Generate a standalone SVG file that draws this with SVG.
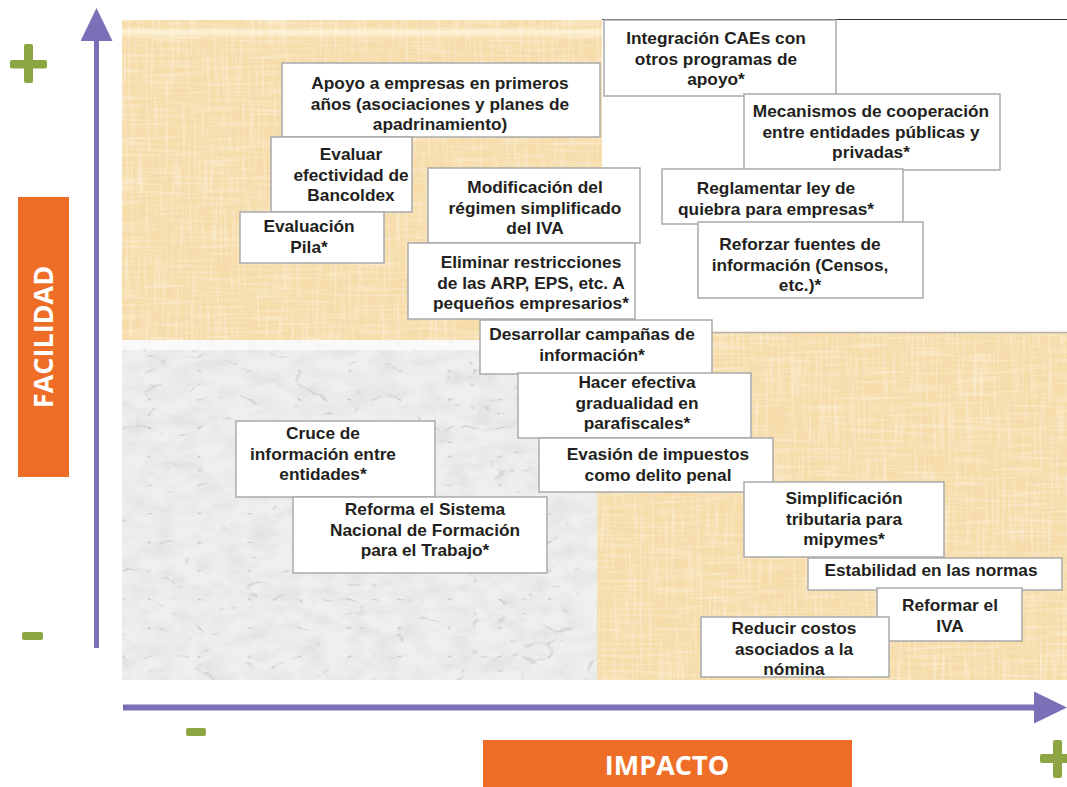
<svg xmlns="http://www.w3.org/2000/svg" width="1067" height="787" viewBox="0 0 1067 787">
<defs>
<style>
.box{fill:#ffffff;stroke:#aaaaaa;stroke-width:1.5}
.t{font-family:"Liberation Sans",Arial,sans-serif;font-weight:bold;font-size:17.3px;fill:#231f20;text-anchor:middle}
.lbl{font-family:"Open Sans","Liberation Sans",sans-serif;font-weight:bold;font-size:27px;fill:#ffffff;text-anchor:middle}
.orange{fill:#ee6e28}
.green{fill:#8ea544}
.axis{stroke:#7b70b8;fill:none}
</style>
<marker id="arr" markerUnits="userSpaceOnUse" markerWidth="34" markerHeight="32" refX="0" refY="16" orient="auto" viewBox="0 0 34 32">
<path d="M0,0 L33,16 L0,32 Z" fill="#7b70b8"/>
</marker>
<filter id="pap" x="0" y="0" width="1" height="1">
<feTurbulence type="fractalNoise" baseFrequency="0.35 0.02" numOctaves="2" seed="3" result="v"/>
<feColorMatrix in="v" type="matrix" values="0 0 0 0 1  0 0 0 0 0.95  0 0 0 0 0.84  1.0 0 0 0 -0.46" result="vl"/>
<feTurbulence type="fractalNoise" baseFrequency="0.02 0.35" numOctaves="2" seed="7" result="h"/>
<feColorMatrix in="h" type="matrix" values="0 0 0 0 1  0 0 0 0 0.95  0 0 0 0 0.84  1.0 0 0 0 -0.46" result="hl"/>
<feTurbulence type="fractalNoise" baseFrequency="0.05" numOctaves="3" seed="9" result="d"/>
<feColorMatrix in="d" type="matrix" values="0 0 0 0 0.92  0 0 0 0 0.77  0 0 0 0 0.5  -0.8 0 0 0 0.32" result="dk"/>
<feMerge result="m"><feMergeNode in="SourceGraphic"/><feMergeNode in="dk"/><feMergeNode in="vl"/><feMergeNode in="hl"/></feMerge>
<feComposite in="m" in2="SourceGraphic" operator="in"/>
</filter>
<filter id="marb" x="0" y="0" width="1" height="1">
<feTurbulence type="turbulence" baseFrequency="0.02 0.035" numOctaves="3" seed="11" result="t"/>
<feColorMatrix in="t" type="matrix" values="0 0 0 0 0.58  0 0 0 0 0.58  0 0 0 0 0.6  -9 0 0 0 0.9" result="veins"/>
<feTurbulence type="fractalNoise" baseFrequency="0.04 0.07" numOctaves="3" seed="4" result="w"/>
<feColorMatrix in="w" type="matrix" values="0 0 0 0 0.72  0 0 0 0 0.72  0 0 0 0 0.74  1.4 0 0 0 -0.5" result="mott"/>
<feMerge result="m"><feMergeNode in="SourceGraphic"/><feMergeNode in="mott"/><feMergeNode in="veins"/></feMerge>
<feComposite in="m" in2="SourceGraphic" operator="in"/>
</filter>
<linearGradient id="topHi" x1="0" y1="0" x2="0" y2="1">
<stop offset="0" stop-color="#fff6df" stop-opacity="0"/>
<stop offset="0.4" stop-color="#fff6df" stop-opacity="0.85"/>
<stop offset="1" stop-color="#fff6df" stop-opacity="0"/>
</linearGradient>
</defs>

<g id="background">
<rect x="0" y="0" width="1067" height="787" fill="#ffffff"/>
<rect x="122" y="20" width="480" height="320" fill="#f6dca8" filter="url(#pap)"/>
<rect x="122" y="27" width="480" height="12" fill="url(#topHi)"/>
<rect x="122" y="340" width="475" height="340" fill="#efefef" filter="url(#marb)"/>
<rect x="122" y="340" width="475" height="10" fill="#ffffff" opacity="0.7"/>
<rect x="597" y="332" width="470" height="348" fill="#f6dca8" filter="url(#pap)"/>
<line x1="597" y1="332.5" x2="1067" y2="332.5" stroke="#b8b0a0" stroke-width="1.5"/>
<line x1="602" y1="19.5" x2="1067" y2="19.5" stroke="#333333" stroke-width="1"/>
</g>

<g id="connectors">
<line class="axis" x1="96.5" y1="648" x2="96.5" y2="41" stroke-width="5" marker-end="url(#arr)"/>
<line class="axis" x1="123" y1="707.5" x2="1034" y2="707.5" stroke-width="6" marker-end="url(#arr)"/>
</g>

<g id="signs">
<rect class="green" x="10" y="60" width="37" height="8.5" rx="2"/>
<rect class="green" x="24" y="44" width="9" height="39" rx="2"/>
<rect class="green" x="22" y="632" width="21" height="8" rx="2"/>
<rect class="green" x="186" y="728" width="20" height="8" rx="2"/>
<rect class="green" x="1053" y="740" width="9" height="38" rx="2"/>
<rect class="green" x="1040" y="754" width="37" height="9" rx="2"/>
</g>

<g id="facilidad">
<rect class="orange" x="18" y="197" width="51" height="280"/>
<text class="lbl" transform="translate(53,337) rotate(-90)" x="0" y="0">FACILIDAD</text>
</g>
<g id="impacto">
<rect class="orange" x="483" y="740" width="369" height="47"/>
<text class="lbl" x="667" y="775">IMPACTO</text>
</g>

<g id="n-apoyo">
<rect class="box" x="282" y="63" width="318" height="74"/>
<text class="t" x="440" y="89">Apoyo a empresas en primeros</text>
<text class="t" x="440" y="109.5">años (asociaciones y planes de</text>
<text class="t" x="440" y="130">apadrinamiento)</text>
</g>
<g id="n-bancoldex">
<rect class="box" x="271" y="137" width="141" height="75"/>
<text class="t" x="351" y="160">Evaluar</text>
<text class="t" x="351" y="180.5">efectividad de</text>
<text class="t" x="351" y="201">Bancoldex</text>
</g>
<g id="n-pila">
<rect class="box" x="240" y="212" width="144" height="51"/>
<text class="t" x="309" y="232">Evaluación</text>
<text class="t" x="309" y="252.5">Pila*</text>
</g>
<g id="n-iva-simpl">
<rect class="box" x="428" y="168" width="212" height="75"/>
<text class="t" x="535" y="193">Modificación del</text>
<text class="t" x="535" y="213.5">régimen simplificado</text>
<text class="t" x="535" y="234">del IVA</text>
</g>
<g id="n-arp">
<rect class="box" x="408" y="243" width="227" height="76"/>
<text class="t" x="531" y="268">Eliminar restricciones</text>
<text class="t" x="531" y="288.5">de las ARP, EPS, etc. A</text>
<text class="t" x="531" y="309">pequeños empresarios*</text>
</g>
<g id="n-campanas">
<rect class="box" x="480" y="320" width="232" height="54"/>
<text class="t" x="592" y="340">Desarrollar campañas de</text>
<text class="t" x="592" y="360.5">información*</text>
</g>
<g id="n-parafiscales">
<rect class="box" x="518" y="373" width="233" height="65"/>
<text class="t" x="637" y="388">Hacer efectiva</text>
<text class="t" x="637" y="408.5">gradualidad en</text>
<text class="t" x="637" y="429">parafiscales*</text>
</g>
<g id="n-evasion">
<rect class="box" x="539" y="438" width="234" height="54"/>
<text class="t" x="658" y="460">Evasión de impuestos</text>
<text class="t" x="658" y="480.5">como delito penal</text>
</g>
<g id="n-cruce">
<rect class="box" x="236" y="421" width="199" height="76"/>
<text class="t" x="323" y="439">Cruce de</text>
<text class="t" x="323" y="459.5">información entre</text>
<text class="t" x="323" y="480">entidades*</text>
</g>
<g id="n-sena">
<rect class="box" x="293" y="497" width="254" height="76"/>
<text class="t" x="425" y="515">Reforma el Sistema</text>
<text class="t" x="425" y="535.5">Nacional de Formación</text>
<text class="t" x="425" y="556">para el Trabajo*</text>
</g>
<g id="n-caes">
<rect class="box" x="604" y="20" width="232" height="76"/>
<text class="t" x="716" y="44">Integración CAEs con</text>
<text class="t" x="716" y="64.5">otros programas de</text>
<text class="t" x="716" y="85">apoyo*</text>
</g>
<g id="n-cooperacion">
<rect class="box" x="744" y="94" width="256" height="76"/>
<text class="t" x="871" y="117">Mecanismos de cooperación</text>
<text class="t" x="871" y="137.5">entre entidades públicas y</text>
<text class="t" x="871" y="158">privadas*</text>
</g>
<g id="n-quiebra">
<rect class="box" x="662" y="169" width="241" height="55"/>
<text class="t" x="776" y="194">Reglamentar ley de</text>
<text class="t" x="776" y="214.5">quiebra para empresas*</text>
</g>
<g id="n-fuentes">
<rect class="box" x="698" y="222" width="225" height="76"/>
<text class="t" x="800" y="250">Reforzar fuentes de</text>
<text class="t" x="800" y="270.5">información (Censos,</text>
<text class="t" x="800" y="291">etc.)*</text>
</g>
<g id="n-simplificacion">
<rect class="box" x="744" y="482" width="200" height="75"/>
<text class="t" x="844" y="504">Simplificación</text>
<text class="t" x="844" y="524.5">tributaria para</text>
<text class="t" x="844" y="545">mipymes*</text>
</g>
<g id="n-estabilidad">
<rect class="box" x="808" y="558" width="254" height="32"/>
<text class="t" x="931" y="576">Estabilidad en las normas</text>
</g>
<g id="n-reformar-iva">
<rect class="box" x="877" y="588" width="145" height="53"/>
<text class="t" x="950" y="611">Reformar el</text>
<text class="t" x="950" y="631.5">IVA</text>
</g>
<g id="n-nomina">
<rect class="box" x="701" y="617" width="188" height="60"/>
<text class="t" x="794" y="634">Reducir costos</text>
<text class="t" x="794" y="654.5">asociados a la</text>
<text class="t" x="794" y="675">nómina</text>
</g>
</svg>
